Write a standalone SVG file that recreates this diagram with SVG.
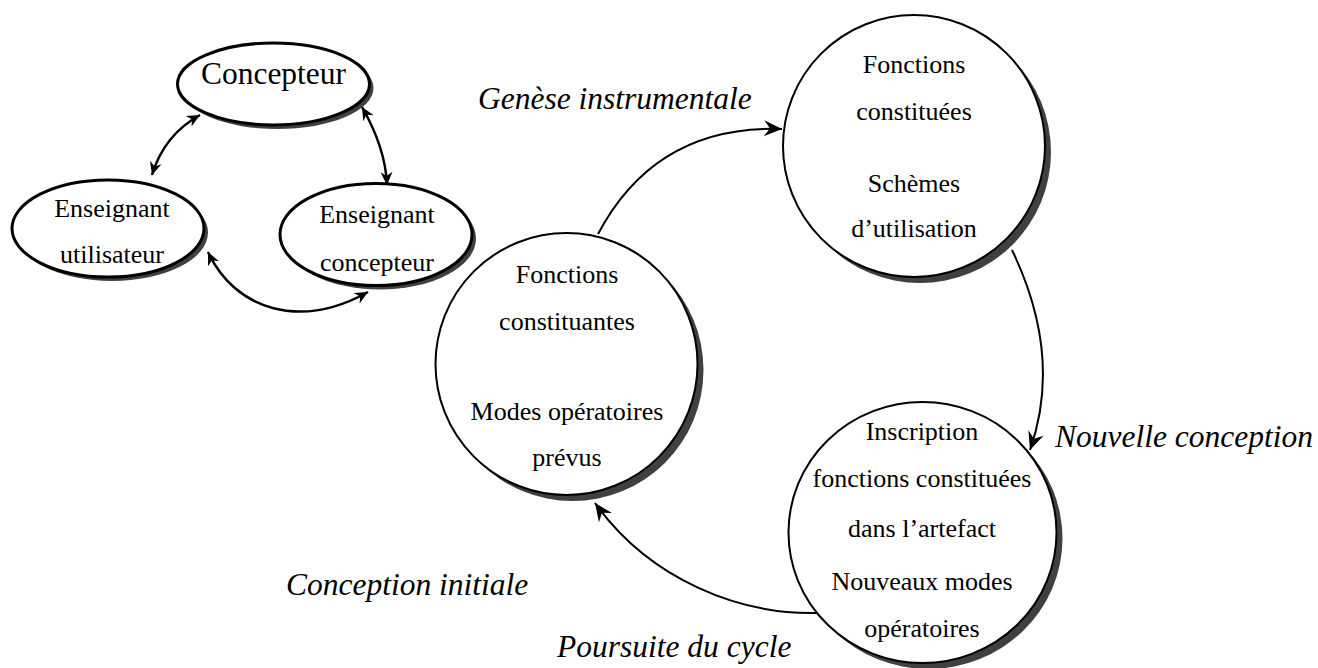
<svg xmlns="http://www.w3.org/2000/svg" width="1318" height="668" viewBox="0 0 1318 668">
<style>
.sh{fill:#404040;stroke:none}
.nd{fill:#fff;stroke:#000}
.el{stroke-width:3}
.ci{stroke-width:2}
.t{font-family:"Liberation Serif","Times New Roman",serif;font-size:26px;fill:#000;text-anchor:middle}
.big{font-size:31.5px}
.lab{font-family:"Liberation Serif","Times New Roman",serif;font-size:31.5px;font-style:italic;fill:#000}
.cn{fill:none;stroke:#000}
.sm{stroke-width:2.5;marker-start:url(#sa);marker-end:url(#sa)}
.bg{stroke-width:2;marker-end:url(#ba)}
</style>
<defs>
<marker id="sa" viewBox="-14 -8 16 16" markerWidth="16" markerHeight="16" refX="0" refY="0" orient="auto-start-reverse" markerUnits="userSpaceOnUse"><path d="M0,0 L-13,-6 L-9,0 L-13,6 Z" fill="#000"/></marker>
<marker id="ba" viewBox="-20 -10 22 20" markerWidth="22" markerHeight="20" refX="0" refY="0" orient="auto" markerUnits="userSpaceOnUse"><path d="M0,0 L-18,-8 L-12,0 L-18,8 Z" fill="#000"/></marker>
</defs>
<rect width="1318" height="668" fill="#fff"/>
<g id="connectors">
<path class="cn sm" d="M152,175 Q164,135 200,115"/>
<path class="cn sm" d="M362,107 Q385.5,148 387,185"/>
<path class="cn sm" d="M208,252 C235,310 300,330 368,292"/>
<path class="cn bg" d="M598,234 Q656,124.5 782,129"/>
<path class="cn bg" d="M1012,250 Q1063,356 1030,450"/>
<path class="cn bg" d="M818,613 C740,615 650,580 595,503"/>
</g>
<g id="concepteur">
<ellipse class="sh" cx="277.5" cy="88" rx="96" ry="41"/>
<ellipse class="nd el" cx="273.5" cy="84" rx="96" ry="41"/>
<text class="t big" x="273.5" y="84">Concepteur</text>
</g>
<g id="enseignant-utilisateur">
<ellipse class="sh" cx="112" cy="232.5" rx="96" ry="48.5"/>
<ellipse class="nd el" cx="108" cy="228.5" rx="96" ry="48.5"/>
<text class="t" x="112" y="217">Enseignant</text>
<text class="t" x="112" y="263">utilisateur</text>
</g>
<g id="enseignant-concepteur">
<ellipse class="sh" cx="380" cy="238.5" rx="96" ry="51"/>
<ellipse class="nd el" cx="376" cy="234.5" rx="96" ry="51"/>
<text class="t" x="377" y="223">Enseignant</text>
<text class="t" x="377" y="271">concepteur</text>
</g>
<g id="conception-initiale">
<circle class="sh" cx="572.5" cy="370" r="131"/>
<circle class="nd ci" cx="566.5" cy="364" r="131"/>
<text class="t" x="567" y="283">Fonctions</text>
<text class="t" x="567" y="330">constituantes</text>
<text class="t" x="567" y="420">Modes opératoires</text>
<text class="t" x="567" y="466">prévus</text>
</g>
<g id="genese">
<circle class="sh" cx="920" cy="152" r="131"/>
<circle class="nd ci" cx="914" cy="146" r="131"/>
<text class="t" x="914" y="73">Fonctions</text>
<text class="t" x="914" y="120">constituées</text>
<text class="t" x="914" y="192">Schèmes</text>
<text class="t" x="914" y="237">d’utilisation</text>
</g>
<g id="nouvelle">
<ellipse class="sh" cx="928.5" cy="538.5" rx="134" ry="130.5"/>
<ellipse class="nd ci" cx="922.5" cy="532.5" rx="134" ry="130.5"/>
<text class="t" x="922" y="440">Inscription</text>
<text class="t" x="922" y="487">fonctions constituées</text>
<text class="t" x="922" y="537">dans l’artefact</text>
<text class="t" x="922" y="590">Nouveaux modes</text>
<text class="t" x="922" y="637">opératoires</text>
</g>
<g id="labels">
<text class="lab" x="478" y="109">Genèse instrumentale</text>
<text class="lab" x="1055" y="447">Nouvelle conception</text>
<text class="lab" x="286" y="595">Conception initiale</text>
<text class="lab" x="557" y="657">Poursuite du cycle</text>
</g>
</svg>
